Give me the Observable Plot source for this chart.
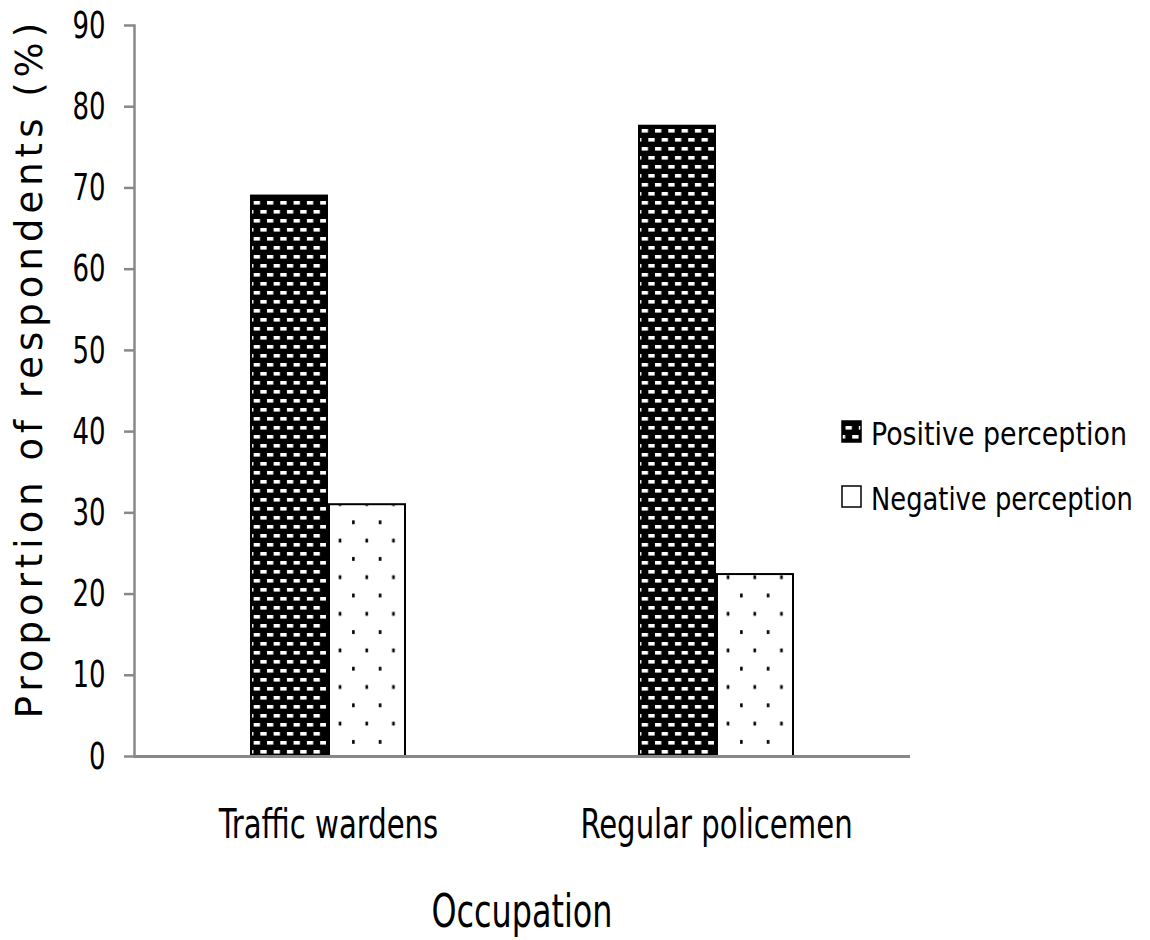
<!DOCTYPE html>
<html>
<head>
<meta charset="utf-8">
<script src="https://cdn.jsdelivr.net/npm/d3@7"></script>
<script src="https://cdn.jsdelivr.net/npm/@observablehq/plot@0.6"></script>
<style>
  html, body { margin: 0; padding: 0; background: white; }
</style>
</head>
<body>
<div id="chart"></div>
<script>
const occupations = ["Traffic wardens", "Regular policemen"];
const perceptions = ["Positive perception", "Negative perception"];
const positiveValues = [69.0, 77.6];
const negativeValues = [31.0, 22.4];
const yTicks = [0, 10, 20, 30, 40, 50, 60, 70, 80, 90];
const xTitle = "Occupation";
const yTitle = "Proportion of respondents (%)";

const data = occupations.flatMap((o, i) => [
  {occupation: o, perception: perceptions[0], value: positiveValues[i]},
  {occupation: o, perception: perceptions[1], value: negativeValues[i]}
]);

const narrow = "'DejaVu Sans Condensed', 'Liberation Sans Narrow', sans-serif";

const svg = Plot.plot({
  width: 1150,
  height: 940,
  marginTop: 25,
  marginBottom: 184,
  marginLeft: 134,
  marginRight: 240,
  style: {fontFamily: narrow, fontSize: "38px", background: "white", color: "black"},
  fx: {domain: occupations, padding: 0},
  x: {domain: perceptions, paddingInner: 0.025, paddingOuter: 1.47, axis: null},
  y: {domain: [0, 90]},
  color: {domain: perceptions, range: ["url(#pat-pos)", "url(#pat-neg)"]},
  marks: [
    Plot.barY(data, {fx: "occupation", x: "perception", y: "value", fill: "perception", stroke: "black", strokeWidth: 2}),
    Plot.axisY({ticks: yTicks, tickSize: 10, tickPadding: 19, stroke: "#888", strokeWidth: 2.5, fill: "black", fontSize: 38, label: null, tickFormat: d => String(d)}),
    Plot.axisFx({anchor: "bottom", tickSize: 0, tickPadding: 53, fontSize: 40, label: null, fill: "black"}),
    Plot.frame({anchor: "left", facetAnchor: "left", stroke: "#888", strokeWidth: 2.5}),
    Plot.ruleY([0], {stroke: "#888", strokeWidth: 3})
  ]
});

document.getElementById("chart").appendChild(svg);

const s = d3.select(svg);
const defs = s.insert("defs", ":first-child");
// positive: black with white brick dashes
const pp = defs.append("pattern").attr("id", "pat-pos").attr("patternUnits", "userSpaceOnUse")
  .attr("width", 13.3).attr("height", 18);
pp.append("rect").attr("width", 13.3).attr("height", 18).attr("fill", "black");
pp.append("rect").attr("x", 1).attr("y", 3).attr("width", 6.3).attr("height", 3.6).attr("fill", "white");
pp.append("rect").attr("x", 7.65).attr("y", 12).attr("width", 6.3).attr("height", 3.6).attr("fill", "white");
pp.append("rect").attr("x", -5.65).attr("y", 12).attr("width", 6.3).attr("height", 3.6).attr("fill", "white");
// negative: white with sparse black dots
const pn = defs.append("pattern").attr("id", "pat-neg").attr("patternUnits", "userSpaceOnUse")
  .attr("width", 26.7).attr("height", 36.6);
pn.append("rect").attr("width", 26.7).attr("height", 36.6).attr("fill", "white");
pn.append("rect").attr("x", 5).attr("y", 8).attr("width", 2.6).attr("height", 3.8).attr("fill", "black");
pn.append("rect").attr("x", 18.35).attr("y", 26.3).attr("width", 2.6).attr("height", 3.8).attr("fill", "black");

function squeeze(sel, factor) {
  sel.each(function() {
    const w = this.getComputedTextLength();
    d3.select(this).attr("textLength", w * factor).attr("lengthAdjust", "spacingAndGlyphs");
  });
}
squeeze(s.selectAll("g[aria-label='y-axis tick label'] text"), 0.76);
squeeze(s.selectAll("g[aria-label='fx-axis tick label'] text"), 0.81);

// axis titles
s.append("text").attr("x", 522).attr("y", 927).attr("text-anchor", "middle")
  .attr("font-family", narrow).attr("font-size", 47)
  .attr("textLength", 181).attr("lengthAdjust", "spacingAndGlyphs")
  .attr("fill", "black").text(xTitle);
s.append("text").attr("transform", "translate(42,368) rotate(-90)").attr("text-anchor", "middle")
  .attr("font-family", "'DejaVu Sans', sans-serif").attr("font-size", 37).attr("letter-spacing", "5px")
  .attr("fill", "black").text(yTitle);

// legend
const legend = s.append("g").attr("aria-label", "legend");
const legY = [445, 510];
const legW = [256, 262];
perceptions.forEach((p, i) => {
  const g = legend.append("g");
  g.append("rect").attr("x", 842).attr("y", legY[i] - 24).attr("width", 19).attr("height", 21)
    .attr("fill", i === 0 ? "url(#pat-pos)" : "white").attr("stroke", "black").attr("stroke-width", 1.5);
  const t = g.append("text").attr("x", 0).attr("y", 0).attr("text-anchor", "start")
    .attr("font-family", narrow).attr("font-size", 32)
    .attr("fill", "black").text(p);
  const w = t.node().getComputedTextLength();
  t.attr("transform", `translate(871,${legY[i]}) scale(${legW[i] / w},1)`);
});
</script>
</body>
</html>
